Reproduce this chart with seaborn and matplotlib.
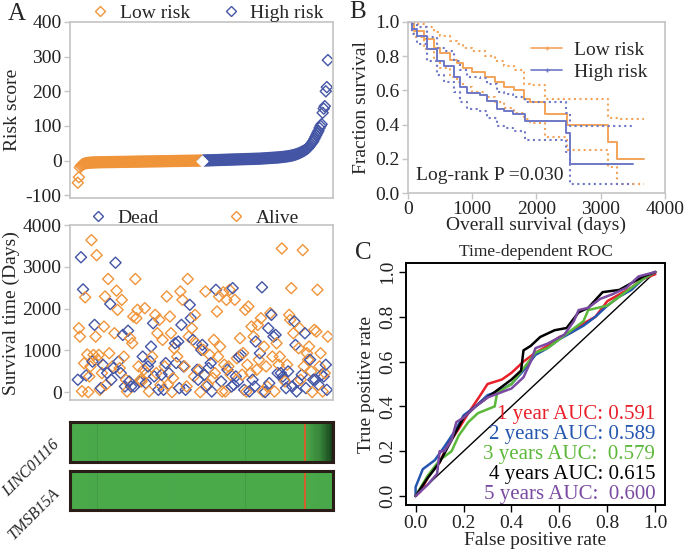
import numpy as np
import pandas as pd
import seaborn as sns
import matplotlib
matplotlib.use('Agg')
import matplotlib.pyplot as plt
from matplotlib.lines import Line2D
from matplotlib.colors import LinearSegmentedColormap

ORANGE = '#f0943a'
BLUE = '#4455a5'
KM_ORANGE = '#f3a45a'
KM_BLUE = '#6f78c6'

# ---- panel A: risk score (sorted) ----
risk_low = [-64, -48, -20, -15, -12, -10, -9, -8, -7.5, -7, -6.6, -6.3, -6, -5.8, -5.6, -5.4, -5.3, -5.2, -5.1, -5,
            -4.9, -4.8, -4.8, -4.7, -4.7, -4.6, -4.6, -4.5, -4.5, -4.4,
            -4.4, -4.3, -4.3, -4.2, -4.2, -4.1, -4.1, -4.0, -4.0, -3.9,
            -3.9, -3.8, -3.8, -3.7, -3.7, -3.6, -3.6, -3.5, -3.5, -3.4,
            -3.4, -3.3, -3.3, -3.2, -3.2, -3.1, -3.1, -3.0, -3.0, -2.9,
            -2.9, -2.8, -2.8, -2.7, -2.7, -2.6, -2.6, -2.5, -2.5, -2.4,
            -2.4, -2.3, -2.3, -2.2, -2.2, -2.1, -2.1, -2.0, -2.0, -1.9,
            -1.9, -1.8, -1.8, -1.7, -1.7, -1.6, -1.6, -1.5, -1.5, -1.4,
            -1.4, -1.3, -1.3, -1.2, -1.2, -1.1, -1.1, -1.0, -1.0, -0.9,
            -0.9, -0.8, -0.8, -0.7, -0.7, -0.6, -0.6, -0.5, -0.5, -0.4,
            -0.4, -0.3, -0.3, -0.2, -0.2, -0.1, -0.1, 0.0, 0.0, 0.1]
risk_high = [0.2, 0.3, 0.4, 0.5, 0.6, 0.7, 0.8, 0.9, 1.0, 1.1,
             1.2, 1.3, 1.4, 1.5, 1.6, 1.7, 1.8, 1.9, 2.0, 2.1,
             2.2, 2.3, 2.4, 2.5, 2.6, 2.7, 2.8, 2.9, 3.0, 3.1,
             3.2, 3.3, 3.4, 3.5, 3.6, 3.7, 3.8, 3.9, 4.0, 4.1,
             4.2, 4.3, 4.4, 4.5, 4.6, 4.7, 4.8, 4.9, 5.0, 5.1,
             5.2, 5.3, 5.4, 5.5, 5.6, 5.8, 6.0, 6.2, 6.4, 6.6,
             6.8, 7.0, 7.2, 7.4, 7.6, 7.8, 8.0, 8.2, 8.4, 8.6,
             8.8, 9.0, 9.3, 9.6, 9.9, 10.2, 10.5, 10.9, 11.3, 11.7,
             12.1, 12.6, 13.1, 13.7, 14.3, 15, 15.8, 16.6, 17.5, 18.5,
             19.6, 20.8, 22, 23.5, 25, 26.5, 28, 30, 32, 34,
             36, 40, 44, 48, 52, 56, 62, 68, 74, 80,
             86, 94, 100, 105, 138, 150, 157, 200, 212, 290]

# ---- panel A: survival time per patient (same order) ----
surv_days = [295, 1530, 1330, 3230, 20, 2460, 690, 2270, 400, 900, 0, 375, 615, 3640, 730, 890, 1610, 1330, 3280, 775,
             890, 55, 95, 455, 655, 1570, 2290, 175, 455, 2710, 930, 2110, 295, 615, 575, 1410, 3100, 2430, 1970, 735,
             575, 455, 2210, 1370, 850, 135, 295, 15, 1470, 255, 1290, 135, 1170, 1810, 135, 2710, 1770, 1970, 615, 255,
             295, 255, 850, 535, 2010, 215, 455, 615, 15, 735, 1090, 850, 1650, 375, 1850, 455, 1410, 55, 1730, 175,
             415, 1250, 55, 615, 695, 2290, 175, 455, 1810, 1410, 0, 335, 1050, 1170, 695, 850, 1210, 95, 2410, 1610,
             2210, 615, 615, 55, 135, 2710, 1330, 2090, 1770, 1530, 1250, 375, 1850, 1170, 535, 295, 535, 0, 1010, 1130,
             1010, 415, 2410, 135, 175, 575, 890, 695, 15, 335, 1250, 455, 2450, 1930, 850, 2290, 1090, 255, 15, 2390,
             655, 15, 2210, 535, 615, 2450, 415, 135, 2490, 175, 2210, 375, 810, 255, 850, 1290, 890, 415, 935, 55,
             1970, 15, 655, 2050, 15, 455, 1570, 295, 1330, 135, 1210, 535, 1610, 775, 930, 1770, 2510, 15, 1090, 0,
             615, 135, 1530, 215, 1890, 1850, 850, 1330, 15, 1370, 1170, 455, 655, 850, 455, 3440, 375, 295, 255, 95,
             655, 495, 1850, 1730, 2490, 135, 1410, 1690, 1130, 15, 255, 1050, 1530, 295, 415, 3400, 615, 1410, 95, 930,
             775, 1090, 775, 495, 0, 295, 1490, 295, 1450, 2450, 175, 615, 930, 415, 15, 375, 455, 655, 55, 1330]
surv_dead = [1, 0, 0, 1, 0, 1, 0, 0, 1, 0, 0, 0, 0, 0, 1, 0, 1, 0, 0, 0,
             0, 0, 1, 0, 1, 0, 0, 0, 1, 0, 0, 1, 1, 0, 1, 0, 1, 0, 0, 1,
             0, 1, 0, 1, 0, 1, 0, 0, 1, 1, 0, 1, 0, 0, 1, 0, 0, 0, 0, 1,
             0, 0, 1, 0, 0, 1, 0, 1, 0, 1, 1, 0, 1, 1, 0, 0, 0, 1, 0, 0,
             1, 0, 1, 0, 1, 0, 0, 1, 0, 0, 0, 0, 0, 1, 1, 0, 1, 1, 0, 1,
             0, 1, 0, 1, 0, 0, 0, 1, 1, 0, 1, 0, 0, 0, 1, 1, 0, 0, 1, 1,
             0, 1, 0, 1, 0, 1, 0, 1, 1, 0, 0, 0, 1, 0, 0, 0, 0, 1, 0, 0,
             0, 0, 0, 1, 0, 0, 0, 1, 1, 1, 0, 1, 0, 1, 1, 0, 1, 0, 0, 1,
             0, 0, 0, 0, 1, 0, 0, 1, 0, 1, 1, 0, 0, 0, 1, 0, 1, 0, 0, 1,
             0, 0, 1, 1, 0, 1, 0, 1, 0, 1, 0, 1, 0, 0, 1, 0, 1, 1, 0, 1,
             0, 1, 0, 0, 0, 1, 0, 1, 1, 1, 1, 0, 0, 0, 1, 0, 0, 1, 1, 0,
             0, 0, 1, 0, 0, 1, 0, 1, 0, 0, 1, 0, 0, 1, 0, 1, 0, 1, 1, 0]

# ---- panel A: expression heatmap (scaled 0-100) ----
linc01116 = [0, 0, 0, 0, 0, 0, 0, 0, 0, 0, 0, 0, 0, 0, 0, 0, 0, 1, 1, 1,
             1, 1, 1, 1, 1, 6, 0, 0, 0, 0, 0, 0, 0, 0, 0, 0, 0, 0, 0, 0,
             0, 0, 0, 0, 0, 0, 0, 0, 0, 0, 0, 0, 0, 0, 0, 0, 0, 0, 0, 0,
             0, 0, 0, 0, 0, 0, 0, 0, 0, 0, 0, 0, 0, 0, 0, 0, 0, 0, 0, 0,
             0, 0, 0, 0, 0, 0, 0, 0, 0, 0, 1, 1, 0, 0, 0, 0, 0, 0, 0, 0,
             0, 0, 0, 0, 0, 0, 0, 0, 0, 0, 0, 0, 0, 0, 0, 0, 0, 0, 0, 0,
             0, 0, 0, 0, 0, 0, 0, 0, 0, 0, 0, 0, 0, 0, 0, 0, 0, 0, 0, 0,
             0, 0, 0, 0, 0, 0, 0, 0, 0, 0, 0, 0, 0, 0, 0, 0, 0, 0, 0, 0,
             6, 0, 0, 0, 0, 0, 0, 0, 0, 0, 0, 0, 0, 0, 0, 0, 0, 0, 0, 0,
             0, 0, 0, 0, 0, 0, 0, 0, 0, 0, 0, 0, 0, 0, 0, 0, 0, 0, 0, 0,
             0, 0, 0, 0, 0, 0, 0, 0, 0, 0, 0, 0, 0, 0, 100, 2, 3, 4, 5, 6,
             7, 8, 9, 10, 11, 12, 13, 14, 16, 18, 20, 22, 24, 26, 29, 32, 35, 38, 42, 46]
tmsb15a = [0, 0, 0, 0, 0, 0, 0, 0, 0, 0, 0, 0, 0, 0, 0, 0, 0, 1, 1, 1,
           1, 1, 1, 1, 1, 6, 0, 0, 0, 0, 0, 0, 0, 0, 0, 0, 0, 0, 0, 0,
           0, 0, 0, 0, 0, 0, 0, 0, 0, 0, 0, 0, 0, 0, 0, 0, 0, 0, 0, 0,
           0, 0, 0, 0, 0, 0, 0, 0, 0, 0, 0, 0, 0, 0, 0, 0, 0, 0, 0, 0,
           0, 0, 0, 0, 0, 0, 0, 0, 0, 0, 1, 1, 0, 0, 0, 0, 0, 0, 0, 0,
           0, 0, 0, 0, 0, 0, 0, 0, 0, 0, 0, 0, 0, 0, 0, 0, 0, 0, 0, 0,
           0, 0, 0, 0, 0, 0, 0, 0, 0, 0, 0, 0, 0, 0, 0, 0, 0, 0, 0, 0,
           0, 0, 0, 0, 0, 0, 0, 0, 0, 0, 0, 0, 0, 0, 0, 0, 0, 0, 0, 0,
           6, 0, 0, 0, 0, 0, 0, 0, 0, 0, 0, 0, 0, 0, 0, 0, 0, 0, 0, 0,
           0, 0, 0, 0, 0, 0, 0, 0, 0, 0, 0, 0, 0, 0, 0, 0, 0, 0, 0, 0,
           0, 0, 0, 0, 0, 0, 0, 0, 0, 0, 0, 0, 0, 0, 100, 0, 0, 0, 0, 0,
           0, 0, 0, 0, 0, 1, 1, 1, 1, 1, 1, 1, 1, 1, 1, 1, 1, 1, 1, 1]
genes = ['LINC01116', 'TMSB15A']

# ---- panel B: Kaplan-Meier steps ----
km_low_t = [0, 100, 250, 400, 500, 650, 760, 850, 1000, 1200, 1350, 1500, 1650, 1800, 1900, 2130, 2470, 3120, 3250, 3680]
km_low_s = [1.0, 0.95, 0.90, 0.85, 0.82, 0.78, 0.76, 0.73, 0.71, 0.68, 0.65, 0.62, 0.60, 0.55, 0.53, 0.46, 0.40, 0.30, 0.20, 0.20]
km_low_up = [1.0, 0.99, 0.97, 0.94, 0.92, 0.89, 0.87, 0.85, 0.83, 0.80, 0.77, 0.74, 0.72, 0.64, 0.63, 0.55, 0.55, 0.44, 0.43, 0.43]
km_low_lo = [1.0, 0.91, 0.84, 0.77, 0.73, 0.68, 0.65, 0.62, 0.59, 0.56, 0.53, 0.50, 0.47, 0.43, 0.41, 0.33, 0.25, 0.15, 0.05, 0.05]
km_high_t = [0, 60, 140, 295, 450, 555, 710, 815, 915, 1125, 1230, 1380, 1490, 1640, 1825, 2460, 2520, 3500]
km_high_s = [1.0, 0.96, 0.92, 0.84, 0.77, 0.74, 0.68, 0.62, 0.585, 0.575, 0.54, 0.49, 0.48, 0.46, 0.42, 0.35, 0.17, 0.17]
km_high_up = [1.0, 0.99, 0.97, 0.91, 0.85, 0.83, 0.77, 0.72, 0.68, 0.67, 0.64, 0.59, 0.58, 0.56, 0.53, 0.47, 0.39, 0.39]
km_high_lo = [1.0, 0.93, 0.87, 0.77, 0.69, 0.65, 0.59, 0.53, 0.49, 0.48, 0.44, 0.39, 0.38, 0.36, 0.31, 0.24, 0.05, 0.05]
logrank_text = 'Log-rank P =0.030'

# ---- panel C: time-dependent ROC ----
roc_labels = ['1 year', '2 years', '3 years', '4 years', '5 years']
roc_auc = ['0.591', '0.589', ' 0.579', '0.615', ' 0.600']
roc_colors = ['#e8202a', '#2456b0', '#5cb83a', '#000000', '#7a4aa2']
roc_fpr = [
    [0, 0.02, 0.06, 0.10, 0.13, 0.18, 0.22, 0.27, 0.30, 0.36, 0.40, 0.45, 0.50, 0.55, 0.60, 0.65, 0.70, 0.75, 0.80, 0.85, 0.90, 0.95, 1.0],
    [0, 0, 0.03, 0.08, 0.12, 0.17, 0.20, 0.25, 0.30, 0.35, 0.40, 0.45, 0.50, 0.55, 0.60, 0.65, 0.70, 0.75, 0.80, 0.85, 0.90, 0.95, 1.0],
    [0, 0.05, 0.10, 0.15, 0.18, 0.22, 0.26, 0.33, 0.34, 0.40, 0.45, 0.50, 0.55, 0.60, 0.65, 0.70, 0.72, 0.80, 0.85, 0.90, 0.95, 1.0],
    [0, 0.05, 0.10, 0.15, 0.20, 0.25, 0.30, 0.35, 0.40, 0.44, 0.45, 0.48, 0.52, 0.58, 0.63, 0.68, 0.72, 0.78, 0.85, 0.90, 0.95, 1.0],
    [0, 0.05, 0.09, 0.10, 0.12, 0.15, 0.17, 0.20, 0.25, 0.30, 0.35, 0.40, 0.45, 0.48, 0.50, 0.55, 0.62, 0.66, 0.68, 0.72, 0.77, 0.82, 0.88, 0.93, 1.0],
]
roc_tpr = [
    [0, 0.02, 0.10, 0.15, 0.22, 0.30, 0.37, 0.45, 0.50, 0.52, 0.55, 0.60, 0.64, 0.67, 0.71, 0.73, 0.77, 0.80, 0.87, 0.90, 0.93, 0.97, 0.99],
    [0, 0.04, 0.12, 0.16, 0.22, 0.30, 0.36, 0.40, 0.45, 0.47, 0.50, 0.56, 0.63, 0.66, 0.70, 0.73, 0.76, 0.80, 0.85, 0.89, 0.92, 0.97, 1.0],
    [0, 0.09, 0.16, 0.20, 0.27, 0.33, 0.37, 0.40, 0.46, 0.50, 0.57, 0.64, 0.66, 0.70, 0.74, 0.78, 0.83, 0.85, 0.89, 0.93, 0.97, 1.0],
    [0, 0.08, 0.15, 0.25, 0.35, 0.40, 0.44, 0.48, 0.52, 0.56, 0.65, 0.67, 0.71, 0.74, 0.75, 0.82, 0.84, 0.91, 0.92, 0.95, 0.98, 1.0],
    [0, 0.05, 0.10, 0.20, 0.20, 0.25, 0.33, 0.35, 0.40, 0.44, 0.46, 0.48, 0.53, 0.60, 0.66, 0.68, 0.72, 0.78, 0.83, 0.84, 0.88, 0.90, 0.93, 0.98, 1.0],
]

sns.set_theme(style='white')
plt.rcParams['font.family'] = ['Liberation Serif', 'DejaVu Serif']
plt.rcParams['axes.unicode_minus'] = False

fig = plt.figure(figsize=(6.85, 5.5), dpi=100)
GREY = '#c4c4c4'
FS = 14


def hollow(ax):
    for coll in ax.collections:
        fc = coll.get_facecolors()
        coll.set_edgecolors(fc)
        coll.set_facecolors('none')


def style_grey(ax):
    for s in ax.spines.values():
        s.set_color(GREY)
        s.set_linewidth(1.2)
    ax.tick_params(axis='both', colors='#222222', labelsize=FS, pad=2)
    ax.tick_params(axis='y', left=True, length=4, width=1, color=GREY)


n = len(risk_low) + len(risk_high)
risk_df = pd.DataFrame({
    'patient': np.arange(n),
    'risk': risk_low + risk_high,
    'group': ['Low risk'] * len(risk_low) + ['High risk'] * len(risk_high),
})

# A top: risk score
ax1 = fig.add_axes([0.102, 0.64, 0.384, 0.32])
sns.scatterplot(data=risk_df, x='patient', y='risk', hue='group',
                palette={'Low risk': ORANGE, 'High risk': BLUE},
                marker='D', s=32, linewidth=1, legend=False, ax=ax1)
hollow(ax1)
cut = risk_df.iloc[[len(risk_low) - 1]]
ax1.scatter(cut['patient'], cut['risk'], marker='D', s=30, facecolor='white',
            edgecolor='white', zorder=5)
ax1.set_xlim(-7.6, 243.8)
ax1.set_ylim(-108, 400)
ax1.set_yticks([-100, 0, 100, 200, 300, 400])
ax1.set_xticks([])
ax1.set_xlabel('')
ax1.set_ylabel('Risk score', fontsize=FS, labelpad=3)
style_grey(ax1)
h1 = [Line2D([], [], marker='D', ls='', mfc='none', mec=c, ms=5, mew=1) for c in (ORANGE, BLUE)]
ax1.legend(h1, ['Low risk', 'High risk'], loc='lower center', bbox_to_anchor=(0.525, 0.99),
           ncol=2, frameon=False, fontsize=FS, columnspacing=1.7, handlelength=0.8,
           handletextpad=0.6, borderaxespad=0, borderpad=0.1)

# A middle: survival time
surv_df = pd.DataFrame({
    'patient': np.arange(n),
    'days': surv_days,
    'status': ['Dead' if d else 'Alive' for d in surv_dead],
})
ax2 = fig.add_axes([0.102, 0.2727, 0.384, 0.318])
sns.scatterplot(data=surv_df, x='patient', y='days', hue='status',
                palette={'Dead': BLUE, 'Alive': ORANGE},
                marker='D', s=32, linewidth=1, legend=False, ax=ax2)
hollow(ax2)
ax2.set_xlim(-7.6, 243.8)
ax2.set_ylim(-190, 4000)
ax2.set_yticks([0, 1000, 2000, 3000, 4000])
ax2.set_xticks([])
ax2.set_xlabel('')
ax2.set_ylabel('Survival time (Days)', fontsize=FS, labelpad=2)
style_grey(ax2)
h2 = [Line2D([], [], marker='D', ls='', mfc='none', mec=c, ms=5, mew=1) for c in (BLUE, ORANGE)]
ax2.legend(h2, ['Dead', 'Alive'], loc='lower center', bbox_to_anchor=(0.473, 0.98),
           ncol=2, frameon=False, fontsize=FS, columnspacing=3.6, handlelength=0.8,
           handletextpad=0.6, borderaxespad=0, borderpad=0.1)

# A bottom: heatmap
cmap = LinearSegmentedColormap.from_list('gbr', ['#4aaa4a', '#0b2a12', '#d2602c'])
for row, bottom, height in [(0, 0.16, 0.0727), (1, 0.0727, 0.0709)]:
    axh = fig.add_axes([0.102, bottom, 0.384, height])
    values = [linc01116, tmsb15a][row]
    sns.heatmap(pd.DataFrame([values], index=[genes[row]]), cmap=cmap, vmin=0, vmax=100,
                cbar=False, xticklabels=False, yticklabels=[genes[row]], ax=axh)
    for s in axh.spines.values():
        s.set_visible(True)
        s.set_color('#2a1c16')
        s.set_linewidth(2.2)
    axh.tick_params(left=False, bottom=False, pad=3)
    for lbl in axh.get_yticklabels():
        lbl.set_rotation(45)
        lbl.set_ha('right')
        lbl.set_va('center')
        lbl.set_rotation_mode('anchor')
        lbl.set_fontstyle('italic')
        lbl.set_fontsize(11.5)
    axh.set_ylabel('')

# B: Kaplan-Meier
ax3 = fig.add_axes([0.5956, 0.649, 0.375, 0.311])
for t, s, up, lo, col in [(km_low_t, km_low_s, km_low_up, km_low_lo, KM_ORANGE),
                          (km_high_t, km_high_s, km_high_up, km_high_lo, KM_BLUE)]:
    sns.lineplot(x=t, y=up, color=col, drawstyle='steps-post', lw=1.5, ls=':', ax=ax3)
    sns.lineplot(x=t, y=lo, color=col, drawstyle='steps-post', lw=1.5, ls=':', ax=ax3)
    sns.lineplot(x=t, y=s, color=col, drawstyle='steps-post', lw=1.4, ax=ax3)
ax3.set_xlim(0, 4000)
ax3.set_ylim(0, 1.0)
ax3.set_xticks([0, 1000, 2000, 3000, 4000])
ax3.set_yticks([0, 0.2, 0.4, 0.6, 0.8, 1.0])
ax3.set_yticklabels(['0.0', '0.2', '0.4', '0.6', '0.8', '1.0'])
style_grey(ax3)
ax3.tick_params(axis='x', bottom=True, length=4, width=1, color=GREY)
ax3.set_xlabel('Overall survival (days)', fontsize=FS, labelpad=-1)
ax3.set_ylabel('Fraction survival', fontsize=FS, labelpad=4)
ax3.text(0.03, 0.1, logrank_text, transform=ax3.transAxes, fontsize=FS, va='center')
h3 = [Line2D([], [], color=c, lw=1.2, marker='+', ms=3) for c in (KM_ORANGE, KM_BLUE)]
ax3.legend(h3, ['Low risk', 'High risk'], loc='upper right', bbox_to_anchor=(1.0, 0.99),
           frameon=False, fontsize=FS, handlelength=1.6, handletextpad=0.6, labelspacing=0.25)

# C: time-dependent ROC
roc_df = pd.concat([pd.DataFrame({'fpr': f, 'tpr': t, 'curve': lab})
                    for f, t, lab in zip(roc_fpr, roc_tpr, roc_labels)])
ax4 = fig.add_axes([0.5927, 0.0818, 0.378, 0.44])
ax4.plot([0, 1], [0, 1], color='black', lw=1)
sns.lineplot(data=roc_df, x='fpr', y='tpr', hue='curve', palette=dict(zip(roc_labels, roc_colors)),
             sort=False, estimator=None, lw=1.8, legend=False, ax=ax4)
ax4.set_xlim(-0.04, 1.04)
ax4.set_ylim(-0.04, 1.04)
ticks = [0, 0.2, 0.4, 0.6, 0.8, 1.0]
ax4.set_xticks(ticks)
ax4.set_yticks(ticks)
ax4.set_xticklabels(['0.0', '0.2', '0.4', '0.6', '0.8', '1.0'])
ax4.set_yticklabels(['0.0', '0.2', '0.4', '0.6', '0.8', '1.0'], rotation=90, va='center')
for s in ax4.spines.values():
    s.set_color('black')
    s.set_linewidth(1.4)
ax4.tick_params(axis='both', bottom=True, left=True, length=5, width=1, color='black',
                labelsize=FS, pad=2, colors='#222222')
ax4.set_xlabel('False positive rate', fontsize=FS, labelpad=0)
ax4.set_ylabel('True positive rate', fontsize=FS, labelpad=3)
ax4.set_title('Time-dependent ROC', fontsize=12.5, pad=5)
for i, (lab, auc, col) in enumerate(zip(roc_labels, roc_auc, roc_colors)):
    ax4.text(1.0, 0.364 - i * 0.089, f'{lab} AUC: {auc}', color=col, fontsize=15,
             ha='right', va='center')

fig.text(0.012, 0.975, 'A', fontsize=18, va='center')
fig.text(0.51, 0.978, 'B', fontsize=18, va='center')
fig.text(0.518, 0.54, 'C', fontsize=18, va='center')

fig.savefig('out.png', dpi=100)
